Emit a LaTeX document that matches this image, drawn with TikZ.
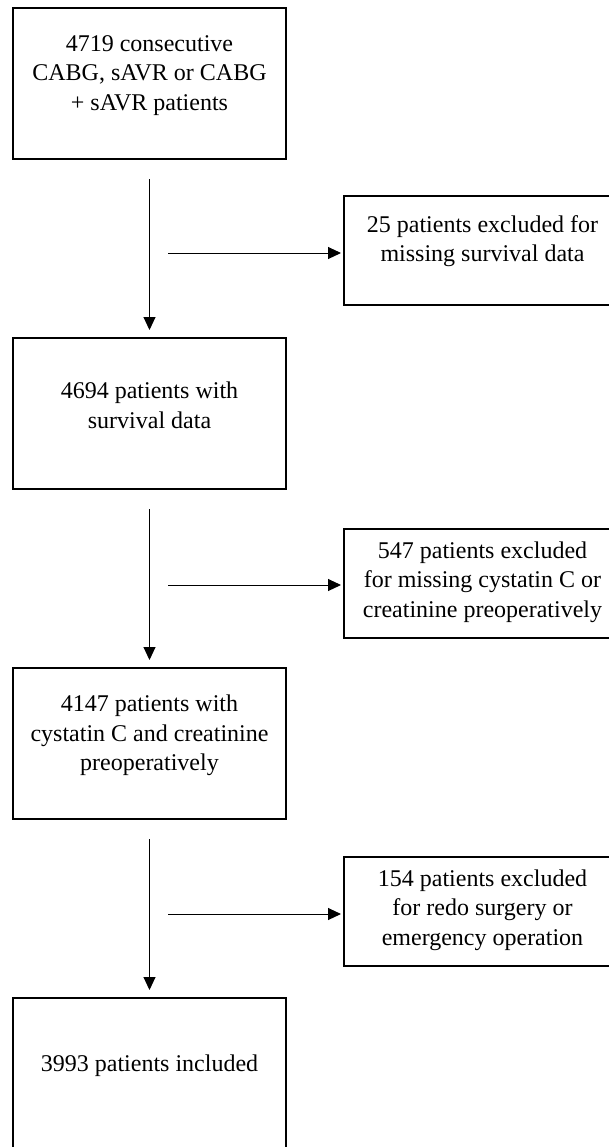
\documentclass[tikz,border=0pt]{standalone}
\usepackage{fontspec}
\setmainfont{Liberation Serif}
\usetikzlibrary{positioning,arrows.meta}

\begin{document}
\begin{tikzpicture}[
        x=0.5pt, y=-0.5pt,
        mainbox/.style={draw, line width=1pt, minimum width=136.5pt, minimum height=75.5pt, inner sep=0pt},
        exclbox/.style={draw, line width=1pt, minimum width=138.5pt, minimum height=54.5pt, inner sep=0pt, anchor=west},
        boxtext/.style={align=center, inner sep=0pt, font=\fontsize{12pt}{14.8pt}\selectfont},
        flow/.style={draw, line width=0.5pt, -{Triangle[width=6pt,length=6.5pt]}},
        node distance=88.5pt,
    ]
    \path[use as bounding box, clip] (0,0) rectangle (609,1147);
    % main column
    \node[mainbox] (b1) at (149.5,83.5) {};
    \node[mainbox, below=of b1] (b2) {};
    \node[mainbox, below=of b2] (b3) {};
    \node[mainbox, below=of b3] (b4) {};
    \node[boxtext] (b1t) at ([yshift=4pt]b1.center) {4719 consecutive\\CABG, sAVR or CABG\\+ sAVR patients};
    \node[boxtext] (b2t) at ([yshift=4pt]b2.center) {4694 patients with\\survival data};
    \node[boxtext] (b3t) at ([yshift=4pt]b3.center) {4147 patients with\\cystatin C and creatinine\\preoperatively};
    \node[boxtext] (b4t) at ([yshift=4pt]b4.center) {3993 patients included};
    % exclusions
    \node[exclbox] (e1) at (343,250.5) {};
    \node[exclbox] (e2) at (343,583.5) {};
    \node[exclbox] (e3) at (343,911.5) {};
    \node[boxtext] (e1t) at ([yshift=4.75pt]e1.center) {25 patients excluded for\\missing survival data};
    \node[boxtext] (e2t) at ([yshift=0.75pt]e2.center) {547 patients excluded\\for missing cystatin C or\\creatinine preoperatively};
    \node[boxtext] (e3t) at ([yshift=0.75pt]e3.center) {154 patients excluded\\for redo surgery or\\emergency operation};
    % arrows
    \draw[flow] ([yshift=-9.5pt]b1.south) -- ([yshift=3.5pt]b2.north);
    \draw[flow] ([yshift=-9.5pt]b2.south) -- ([yshift=3.5pt]b3.north);
    \draw[flow] ([yshift=-9.5pt]b3.south) -- ([yshift=3.5pt]b4.north);
    \coordinate (h1) at (168,253);
    \coordinate (h2) at (168,585);
    \coordinate (h3) at (168,914);
    \draw[flow, shorten >=1pt] (h1) -- (h1 -| e1.west);
    \draw[flow, shorten >=1pt] (h2) -- (h2 -| e2.west);
    \draw[flow, shorten >=1pt] (h3) -- (h3 -| e3.west);
\end{tikzpicture}
\end{document}
